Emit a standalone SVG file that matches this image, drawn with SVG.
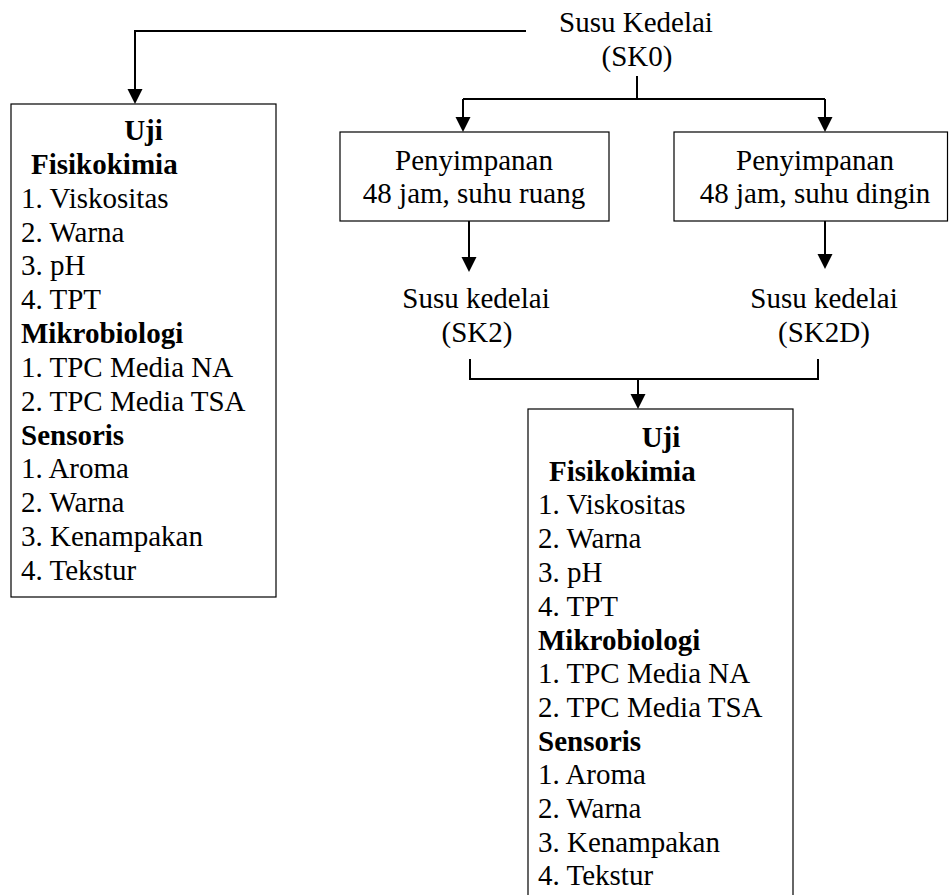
<svg xmlns="http://www.w3.org/2000/svg" width="949" height="895" viewBox="0 0 949 895">
<style>
  text { font-family: 'Liberation Serif', 'Times New Roman', serif; font-size: 29px; fill: #000; }
  .b { font-weight: bold; }
  .c { text-anchor: middle; }
  .box { fill: #fff; stroke: #000; stroke-width: 1.2; }
  .con { fill: none; stroke: #000; stroke-width: 2; }
</style>
<defs>
  <marker id="ah" markerUnits="userSpaceOnUse" markerWidth="15" markerHeight="15" refX="0" refY="7.5" orient="auto" overflow="visible">
    <path d="M0,0 L15,7.5 L0,15 Z" fill="#000"/>
  </marker>
</defs>

<g id="connectors">
  <path class="con" d="M526,31 H135 V89" marker-end="url(#ah)"/>
  <path class="con" d="M637,76 V99"/>
  <path class="con" d="M463,99 H825"/>
  <path class="con" d="M463,99 V117" marker-end="url(#ah)"/>
  <path class="con" d="M825,99 V117" marker-end="url(#ah)"/>
  <path class="con" d="M469,221 V257" marker-end="url(#ah)"/>
  <path class="con" d="M825,221 V254" marker-end="url(#ah)"/>
  <path class="con" d="M470,359 V379 H818 V359"/>
  <path class="con" d="M638,379 V394" marker-end="url(#ah)"/>
</g>

<g id="sk0">
  <text class="c" x="636" y="32">Susu Kedelai</text>
  <text class="c" x="637" y="66">(SK0)</text>
</g>

<g id="uji-left">
  <rect class="box" x="11" y="104" width="265" height="493"/>
  <text class="b c" x="143.5" y="140">Uji</text>
  <text class="b" x="31" y="174">Fisikokimia</text>
  <text x="21" y="208">1. Viskositas</text>
  <text x="21" y="242">2. Warna</text>
  <text x="21" y="275">3. pH</text>
  <text x="21" y="309">4. TPT</text>
  <text class="b" x="21" y="343">Mikrobiologi</text>
  <text x="21" y="377">1. TPC Media NA</text>
  <text x="21" y="411">2. TPC Media TSA</text>
  <text class="b" x="21" y="445">Sensoris</text>
  <text x="21" y="478">1. Aroma</text>
  <text x="21" y="512">2. Warna</text>
  <text x="21" y="546">3. Kenampakan</text>
  <text x="21" y="580">4. Tekstur</text>
</g>

<g id="simpan-ruang">
  <rect class="box" x="340" y="132" width="269" height="89"/>
  <text class="c" x="474" y="170">Penyimpanan</text>
  <text class="c" x="474" y="203">48 jam, suhu ruang</text>
</g>

<g id="simpan-dingin">
  <rect class="box" x="674" y="132" width="273.5" height="89"/>
  <text class="c" x="815" y="170">Penyimpanan</text>
  <text class="c" x="815" y="203">48 jam, suhu dingin</text>
</g>

<g id="sk2">
  <text class="c" x="476" y="308">Susu kedelai</text>
  <text class="c" x="477" y="342">(SK2)</text>
</g>

<g id="sk2d">
  <text class="c" x="824" y="308">Susu kedelai</text>
  <text class="c" x="824" y="342">(SK2D)</text>
</g>

<g id="uji-bottom">
  <rect class="box" x="528" y="409" width="265" height="500"/>
  <text class="b c" x="661" y="447">Uji</text>
  <text class="b" x="549" y="481">Fisikokimia</text>
  <text x="538" y="514">1. Viskositas</text>
  <text x="538" y="548">2. Warna</text>
  <text x="538" y="582">3. pH</text>
  <text x="538" y="616">4. TPT</text>
  <text class="b" x="538" y="650">Mikrobiologi</text>
  <text x="538" y="683">1. TPC Media NA</text>
  <text x="538" y="717">2. TPC Media TSA</text>
  <text class="b" x="538" y="751">Sensoris</text>
  <text x="538" y="784">1. Aroma</text>
  <text x="538" y="818">2. Warna</text>
  <text x="538" y="852">3. Kenampakan</text>
  <text x="538" y="885">4. Tekstur</text>
</g>
</svg>
